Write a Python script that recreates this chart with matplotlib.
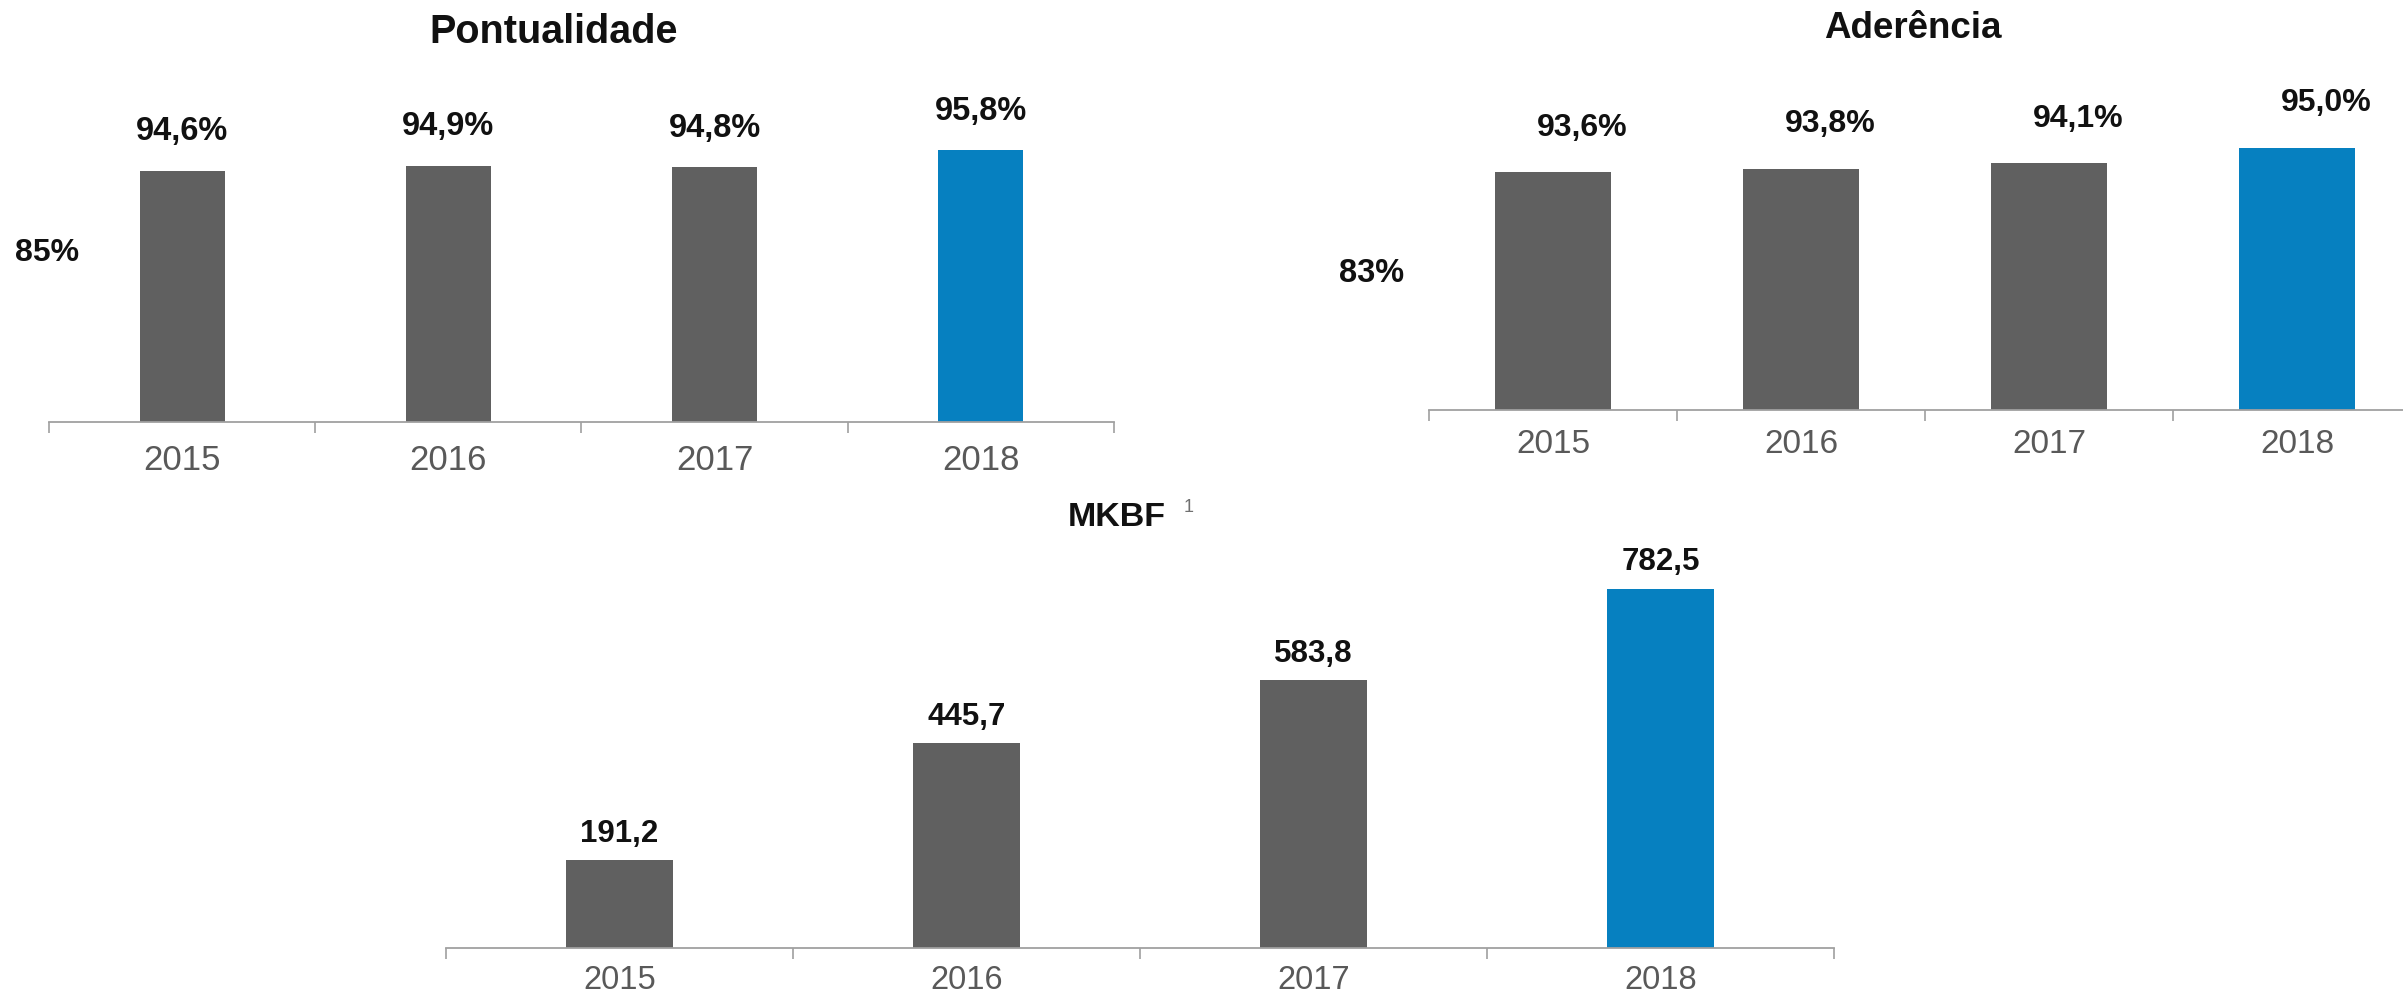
import matplotlib
matplotlib.use("Agg")
import matplotlib.pyplot as plt
import numpy as np

plt.rcParams['font.family'] = ['Liberation Sans', 'DejaVu Sans']

# Data
years = ['2015', '2016', '2017', '2018']
pontualidade = [94.6, 94.9, 94.8, 95.8]
aderencia = [93.6, 93.8, 94.1, 95.0]
mkbf = [191.2, 445.7, 583.8, 782.5]

GREY = '#606060'
BLUE = '#0680c0'
AXIS = '#a0a0a0'
LABEL = '#595959'

W, H = 2403, 1000


def px_axes(fig, left, right, bottom, top):
    """Axes from pixel edges (measured from top-left)."""
    return fig.add_axes([left / W, (H - bottom) / H,
                         (right - left) / W, (bottom - top) / H])


def draw_panel(ax, values, width, ylim, fmt, label_size, year_size,
               label_dy, label_dx=0, pad=14):
    x = np.arange(len(years))
    colors = [GREY] * (len(values) - 1) + [BLUE]
    ax.bar(x, values, width=width, color=colors, zorder=2)
    ax.set_xlim(-0.5, len(years) - 0.5)
    ax.set_ylim(*ylim)

    for sp in ['left', 'top', 'right']:
        ax.spines[sp].set_visible(False)
    ax.spines['bottom'].set_color(AXIS)
    ax.spines['bottom'].set_linewidth(1.3)
    ax.set_yticks([])

    ax.set_xticks(x, years)
    ax.tick_params(axis='x', which='major', length=0, pad=pad,
                   labelsize=year_size, labelcolor=LABEL)
    ax.set_xticks(np.arange(len(years) + 1) - 0.5, minor=True)
    ax.tick_params(axis='x', which='minor', length=8, width=1.2,
                   color=AXIS, direction='out')

    for xi, v in zip(x, values):
        ax.annotate(fmt(v), (xi, v), xytext=(label_dx, label_dy),
                    textcoords='offset points', ha='center', va='center',
                    fontsize=label_size, fontweight='bold', color='#111111')


def pct(v):
    return f'{v:.1f}%'.replace('.', ',')


def num(v):
    return f'{v:.1f}'.replace('.', ',')


fig = plt.figure(figsize=(W / 100, H / 100), dpi=100)

# Pontualidade
ax1 = px_axes(fig, 49, 1114, 422, 422 - 18 * 17.2)
draw_panel(ax1, pontualidade, 0.32, (80, 98), pct, 23.5, 25, 28, 0, 16)
fig.text(554 / W, 1 - 32 / H, 'Pontualidade', ha='center', va='center',
         fontsize=28.5, fontweight='bold', color='#111111')
fig.text(47 / W, 1 - 253 / H, '85%', ha='center', va='center',
         fontsize=23, fontweight='bold', color='#111111')

# Aderência
ax2 = px_axes(fig, 1429, 2421, 410, 410 - 18 * 17.5)
draw_panel(ax2, aderencia, 0.47, (80, 98), pct, 23, 24, 32, 21, 14)
fig.text(1913 / W, 1 - 28 / H, 'Aderência', ha='center', va='center',
         fontsize=26.5, fontweight='bold', color='#111111')
fig.text(1372 / W, 1 - 273 / H, '83%', ha='center', va='center',
         fontsize=23.5, fontweight='bold', color='#111111')

# MKBF
ax3 = px_axes(fig, 446, 1834, 948, 948 - 900 * 0.459)
draw_panel(ax3, mkbf, 0.31, (0, 900), num, 22.5, 23.5, 19, 0, 12)
fig.text(1117 / W, 1 - 517 / H, 'MKBF', ha='center', va='center',
         fontsize=24.5, fontweight='bold', color='#111111')
fig.text(1189 / W, 1 - 508 / H, '1', ha='center', va='center',
         fontsize=13, color='#707070')

fig.savefig('out.png', dpi=100)
